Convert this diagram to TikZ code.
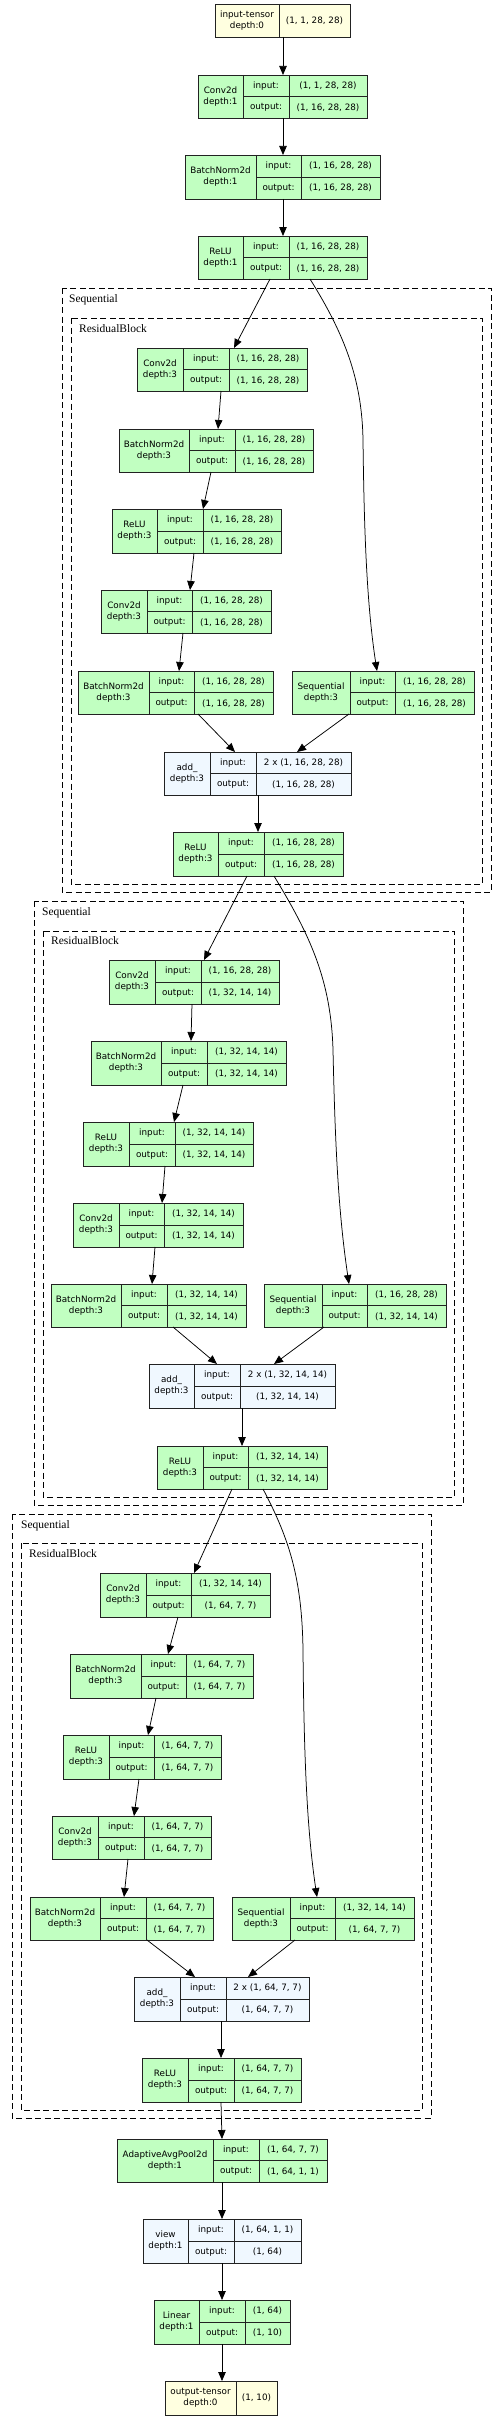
\documentclass[tikz,border=0pt]{standalone}
\usepackage{fontspec}
\newfontfamily\nodefont{DejaVu Sans}
\newfontfamily\clfont{Liberation Serif}
\usetikzlibrary{arrows.meta,calc}
\definecolor{grn}{HTML}{C1FFC1}
\definecolor{blu}{HTML}{F0F8FF}
\definecolor{yel}{HTML}{FFFFE0}
\definecolor{bord}{HTML}{222222}
\tikzset{
 tbl/.style={draw=bord, line width=0.9pt, inner sep=0pt, outer sep=0pt},
 tline/.style={draw=bord, line width=0.9pt},
 txt/.style={font=\nodefont\fontsize{8.8}{11}\selectfont, inner sep=0pt, align=center},
 edge/.style={draw=black, line width=0.75pt, -{Triangle[length=9pt,width=7.5pt]}},
 clus/.style={draw=black, line width=0.8pt, dash pattern=on 6pt off 3.5pt},
 cllab/.style={font=\clfont\fontsize{11.5}{13}\selectfont, anchor=base west, inner sep=0pt},
}
% fill, name, x1, y1, x2, y2, a ; then b, label, in, out
\newcommand\mtab[7]{\def\mtF{#1}\def\mtN{#2}\def\mtXa{#3}\def\mtYa{#4}\def\mtXb{#5}\def\mtYb{#6}\def\mtA{#7}\mtabB}
\newcommand\mtabB[4]{%
 \node[tbl, fill=\mtF, minimum width={(\mtXb-\mtXa)*1pt}, minimum height={(\mtYb-\mtYa)*1pt}, anchor=north west] (\mtN) at (\mtXa,\mtYa) {};
 \draw[tline] (\mtA,\mtYa) -- (\mtA,\mtYb);
 \draw[tline] (#1,\mtYa) -- (#1,\mtYb);
 \draw[tline] ({\mtA},{(\mtYa+\mtYb)/2}) -- ({\mtXb},{(\mtYa+\mtYb)/2});
 \node[txt] (\mtN-lab) at ({(\mtXa+\mtA)/2},{(\mtYa+\mtYb)/2}) {#2};
 \node[txt] (\mtN-ik) at ({(\mtA+#1)/2},{(3*\mtYa+\mtYb)/4}) {input:};
 \node[txt] (\mtN-ok) at ({(\mtA+#1)/2},{(\mtYa+3*\mtYb)/4}) {output:};
 \node[txt] (\mtN-iv) at ({(#1+\mtXb)/2},{(3*\mtYa+\mtYb)/4}) {#3};
 \node[txt] (\mtN-ov) at ({(#1+\mtXb)/2},{(\mtYa+3*\mtYb)/4}) {#4};
}
% fill, name, x1, y1, x2, y2, a, label, value
\newcommand\iotab[9]{%
 \node[tbl, fill=#1, minimum width={(#5-#3)*1pt}, minimum height={(#6-#4)*1pt}, anchor=north west] (#2) at (#3,#4) {};
 \draw[tline] (#7,#4) -- (#7,#6);
 \node[txt] (#2-lab) at ({(#3+#7)/2},{(#4+#6)/2}) {#8};
 \node[txt] (#2-val) at ({(#7+#5)/2},{(#4+#6)/2}) {#9};
}
\newcommand\E[4]{\draw[edge] ($(#1.south west)+(#2,0)$) -- ($(#3.north west)+(#4,0)$);}
\begin{document}
\begin{tikzpicture}[x=1pt,y=-1pt]
\useasboundingbox (0,0) rectangle (503,2419);
% clusters
\draw[clus] (62,288) rectangle (491,892);
\draw[clus] (71,318) rectangle (482,884);
\node[cllab] (seqA) at (69,302) {Sequential};
\node[cllab] (resA) at (79,332) {ResidualBlock};
\draw[clus] (34,901) rectangle (463,1505);
\draw[clus] (43,931) rectangle (454,1497);
\node[cllab] (seqB) at (42,915) {Sequential};
\node[cllab] (resB) at (51,944) {ResidualBlock};
\draw[clus] (12,1514) rectangle (431,2118);
\draw[clus] (21,1543) rectangle (422,2110);
\node[cllab] (seqC) at (21,1528) {Sequential};
\node[cllab] (resC) at (29,1557) {ResidualBlock};
% top
\iotab{yel}{inp}{215}{4}{350}{37}{279}{input-tensor\\depth:0}{(1, 1, 28, 28)}
\mtab{grn}{c1}{198}{75}{367}{118}{243}{289}{Conv2d\\depth:1}{(1, 1, 28, 28)}{(1, 16, 28, 28)}
\mtab{grn}{b1}{185}{155}{380}{199}{256}{301}{BatchNorm2d\\depth:1}{(1, 16, 28, 28)}{(1, 16, 28, 28)}
\mtab{grn}{r1}{198}{236}{367}{279}{243}{289}{ReLU\\depth:1}{(1, 16, 28, 28)}{(1, 16, 28, 28)}
% block 1
\mtab{grn}{c11}{137}{348}{307}{391}{183}{229}{Conv2d\\depth:3}{(1, 16, 28, 28)}{(1, 16, 28, 28)}
\mtab{grn}{b11}{119}{429}{313}{472}{189}{235}{BatchNorm2d\\depth:3}{(1, 16, 28, 28)}{(1, 16, 28, 28)}
\mtab{grn}{r11}{112}{509}{281}{553}{157}{203}{ReLU\\depth:3}{(1, 16, 28, 28)}{(1, 16, 28, 28)}
\mtab{grn}{c12}{101}{590}{271}{633}{147}{192}{Conv2d\\depth:3}{(1, 16, 28, 28)}{(1, 16, 28, 28)}
\mtab{grn}{b12}{78}{671}{273}{714}{149}{194}{BatchNorm2d\\depth:3}{(1, 16, 28, 28)}{(1, 16, 28, 28)}
\mtab{grn}{s1}{292}{671}{474}{714}{350}{395}{Sequential\\depth:3}{(1, 16, 28, 28)}{(1, 16, 28, 28)}
\mtab{blu}{a1}{164}{752}{351}{795}{210}{256}{add\_\\depth:3}{2 x (1, 16, 28, 28)}{(1, 16, 28, 28)}
\mtab{grn}{r12}{173}{832}{343}{876}{218}{264}{ReLU\\depth:3}{(1, 16, 28, 28)}{(1, 16, 28, 28)}
% block 2
\mtab{grn}{c21}{109}{960}{279}{1004}{155}{201}{Conv2d\\depth:3}{(1, 16, 28, 28)}{(1, 32, 14, 14)}
\mtab{grn}{b21}{91}{1041}{286}{1085}{161}{207}{BatchNorm2d\\depth:3}{(1, 32, 14, 14)}{(1, 32, 14, 14)}
\mtab{grn}{r21}{83}{1122}{253}{1166}{129}{175}{ReLU\\depth:3}{(1, 32, 14, 14)}{(1, 32, 14, 14)}
\mtab{grn}{c22}{73}{1203}{243}{1247}{119}{164}{Conv2d\\depth:3}{(1, 32, 14, 14)}{(1, 32, 14, 14)}
\mtab{grn}{b22}{51}{1284}{246}{1327}{121}{167}{BatchNorm2d\\depth:3}{(1, 32, 14, 14)}{(1, 32, 14, 14)}
\mtab{grn}{s2}{264}{1284}{446}{1327}{322}{367}{Sequential\\depth:3}{(1, 16, 28, 28)}{(1, 32, 14, 14)}
\mtab{blu}{a2}{149}{1364}{335}{1408}{194}{240}{add\_\\depth:3}{2 x (1, 32, 14, 14)}{(1, 32, 14, 14)}
\mtab{grn}{r22}{157}{1446}{327}{1489}{203}{248}{ReLU\\depth:3}{(1, 32, 14, 14)}{(1, 32, 14, 14)}
% block 3
\mtab{grn}{c31}{100}{1573}{270}{1617}{146}{191}{Conv2d\\depth:3}{(1, 32, 14, 14)}{(1, 64, 7, 7)}
\mtab{grn}{b31}{70}{1654}{253}{1698}{141}{186}{BatchNorm2d\\depth:3}{(1, 64, 7, 7)}{(1, 64, 7, 7)}
\mtab{grn}{r31}{63}{1735}{221}{1779}{109}{154}{ReLU\\depth:3}{(1, 64, 7, 7)}{(1, 64, 7, 7)}
\mtab{grn}{c32}{52}{1816}{211}{1859}{98}{144}{Conv2d\\depth:3}{(1, 64, 7, 7)}{(1, 64, 7, 7)}
\mtab{grn}{b32}{30}{1897}{213}{1940}{100}{146}{BatchNorm2d\\depth:3}{(1, 64, 7, 7)}{(1, 64, 7, 7)}
\mtab{grn}{s3}{232}{1897}{414}{1940}{290}{335}{Sequential\\depth:3}{(1, 32, 14, 14)}{(1, 64, 7, 7)}
\mtab{blu}{a3}{134}{1977}{309}{2021}{180}{226}{add\_\\depth:3}{2 x (1, 64, 7, 7)}{(1, 64, 7, 7)}
\mtab{grn}{r32}{142}{2058}{301}{2102}{188}{234}{ReLU\\depth:3}{(1, 64, 7, 7)}{(1, 64, 7, 7)}
% tail
\mtab{grn}{ap}{117}{2139}{327}{2182}{213}{259}{AdaptiveAvgPool2d\\depth:1}{(1, 64, 7, 7)}{(1, 64, 1, 1)}
\mtab{blu}{vw}{143}{2219}{301}{2263}{188}{234}{view\\depth:1}{(1, 64, 1, 1)}{(1, 64)}
\mtab{grn}{ln}{154}{2300}{290}{2344}{199}{245}{Linear\\depth:1}{(1, 64)}{(1, 10)}
\iotab{yel}{outp}{165}{2381}{277}{2415}{236}{output-tensor\\depth:0}{(1, 10)}
% edges
\E{inp}{68}{c1}{85}
\E{c1}{85}{b1}{98}
\E{b1}{98}{r1}{85}
\E{r1}{72}{c11}{97}
\draw[edge] ($(r1.south west)+(112,0)$) .. controls (345,335) and (362,380) .. (363,440) .. controls (364,520) and (366,600) .. ($(s1.north west)+(85,0)$);
\E{c11}{84}{b11}{99}
\E{b11}{92}{r11}{91}
\E{r11}{82}{c12}{89}
\E{c12}{82}{b12}{101}
\E{b12}{120}{a1}{71}
\E{s1}{57}{a1}{133}
\E{a1}{94}{r12}{85}
\E{r12}{74}{c21}{95}
\draw[edge] ($(r12.south west)+(101,0)$) .. controls (310,935) and (331,980) .. (333,1050) .. controls (335,1140) and (338,1210) .. ($(s2.north west)+(85,0)$);
\E{c21}{83}{b21}{100}
\E{b21}{92}{r21}{91}
\E{r21}{82}{c22}{89}
\E{c22}{82}{b22}{101}
\E{b22}{122}{a2}{68}
\E{s2}{60}{a2}{125}
\E{a2}{93}{r22}{85}
\E{r22}{75}{c31}{94}
\draw[edge] ($(r22.south west)+(106,0)$) .. controls (290,1540) and (302,1580) .. (303,1650) .. controls (304,1760) and (307,1830) .. ($(s3.north west)+(85,0)$);
\E{c31}{78}{b31}{98}
\E{b31}{86}{r31}{85}
\E{r31}{76}{c32}{82}
\E{c32}{76}{b32}{94}
\E{b32}{117}{a3}{61}
\E{s3}{63}{a3}{114}
\E{a3}{87}{r32}{79}
\E{r32}{79}{ap}{105}
\E{ap}{105}{vw}{79}
\E{vw}{79}{ln}{68}
\E{ln}{68}{outp}{57}
\end{tikzpicture}
\end{document}
